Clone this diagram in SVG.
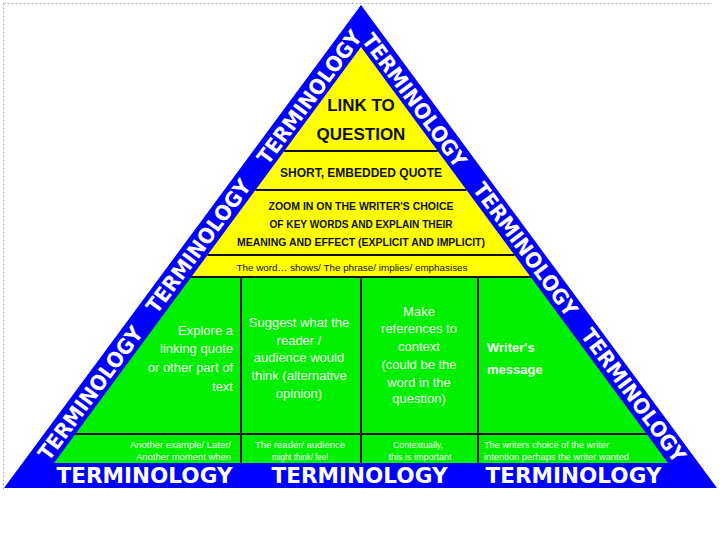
<svg xmlns="http://www.w3.org/2000/svg" width="720" height="540" viewBox="0 0 720 540">
<style>
.term{font-family:"DejaVu Sans",sans-serif;font-weight:bold;font-size:21px;fill:#fff;text-anchor:middle}
.ytxt{font-family:"Liberation Sans",Arial,sans-serif;font-weight:bold;fill:#111;text-anchor:middle}
.gtxt{font-family:"Liberation Sans",Arial,sans-serif;font-size:13px;fill:#f2fff0}
.small{font-family:"Liberation Sans",Arial,sans-serif;font-size:9px;fill:#f2fff0}
.div{stroke:#111;stroke-width:2;fill:none}
</style>
<rect width="720" height="540" fill="#fff"/>
<g id="frame" stroke="#9fb3c8" stroke-width="1" stroke-dasharray="2,2" fill="none">
<line x1="3.5" y1="3.5" x2="712" y2="3.5"/>
<line x1="3.5" y1="3.5" x2="3.5" y2="490"/>
</g>
<g id="band">
<polygon points="361,5 717,488 4,488" fill="#0000ff"/>
<text class="term" transform="translate(309,97) rotate(-53.5)" y="8" textLength="160" lengthAdjust="spacingAndGlyphs">TERMINOLOGY</text>
<text class="term" transform="translate(198,246) rotate(-53.5)" y="8" textLength="160" lengthAdjust="spacingAndGlyphs">TERMINOLOGY</text>
<text class="term" transform="translate(90,393) rotate(-53.5)" y="8" textLength="160" lengthAdjust="spacingAndGlyphs">TERMINOLOGY</text>
<text class="term" transform="translate(415,100) rotate(53.6)" y="8" textLength="160" lengthAdjust="spacingAndGlyphs">TERMINOLOGY</text>
<text class="term" transform="translate(526,249) rotate(53.6)" y="8" textLength="160" lengthAdjust="spacingAndGlyphs">TERMINOLOGY</text>
<text class="term" transform="translate(634,395) rotate(53.6)" y="8" textLength="160" lengthAdjust="spacingAndGlyphs">TERMINOLOGY</text>
<text class="term" x="144.5" y="483" font-size="22" textLength="176" lengthAdjust="spacingAndGlyphs">TERMINOLOGY</text>
<text class="term" x="359.5" y="483" font-size="22" textLength="176" lengthAdjust="spacingAndGlyphs">TERMINOLOGY</text>
<text class="term" x="573.5" y="483" font-size="22" textLength="176" lengthAdjust="spacingAndGlyphs">TERMINOLOGY</text>
</g>
<g id="yellow-area">
<polygon points="361,47 530.7,277 191.3,277" fill="#ffff00"/>
</g>
<g id="green-area">
<polygon points="191.3,277 530.7,277 668,463 54,463" fill="#00f000"/>
</g>
<g id="connectors">
<line class="div" x1="284.2" y1="151" x2="437.8" y2="151"/>
<line class="div" x1="255.5" y1="190" x2="466.5" y2="190"/>
<line class="div" x1="207.5" y1="255" x2="514.5" y2="255"/>
<line class="div" x1="191.3" y1="277" x2="530.7" y2="277"/>
<line class="div" x1="75.4" y1="434" x2="646.6" y2="434"/>
<line class="div" x1="241" y1="277" x2="241" y2="463"/>
<line class="div" x1="361" y1="277" x2="361" y2="463"/>
<line class="div" x1="478" y1="277" x2="478" y2="463"/>
</g>
<g id="link-to-question">
<text class="ytxt" x="361" y="111" font-size="17">LINK TO</text>
<text class="ytxt" x="361" y="140" font-size="17">QUESTION</text>
</g>
<g id="short-quote">
<text class="ytxt" x="361" y="177" font-size="13" textLength="162" lengthAdjust="spacingAndGlyphs">SHORT, EMBEDDED QUOTE</text>
</g>
<g id="zoom-in">
<text class="ytxt" x="361" y="210" font-size="10.5" textLength="185" lengthAdjust="spacingAndGlyphs">ZOOM IN ON THE WRITER'S CHOICE</text>
<text class="ytxt" x="361" y="228" font-size="10.5" textLength="183" lengthAdjust="spacingAndGlyphs">OF KEY WORDS AND EXPLAIN THEIR</text>
<text class="ytxt" x="361" y="246" font-size="10.5" textLength="248" lengthAdjust="spacingAndGlyphs">MEANING AND EFFECT (EXPLICIT AND IMPLICIT)</text>
</g>
<g id="phrase">
<text class="ytxt" x="352" y="271" font-size="9" style="font-weight:normal" textLength="231" lengthAdjust="spacingAndGlyphs">The word… shows/ The phrase/ implies/ emphasises</text>
</g>
<g id="explore" class="gtxt" text-anchor="end">
<text x="233" y="335">Explore a</text>
<text x="233" y="353">linking quote</text>
<text x="233" y="372">or other part of</text>
<text x="233" y="391">text</text>
</g>
<g id="suggest" class="gtxt" text-anchor="middle">
<text x="299" y="327">Suggest what the</text>
<text x="299" y="345">reader /</text>
<text x="299" y="362">audience would</text>
<text x="299" y="380">think (alternative</text>
<text x="299" y="398">opinion)</text>
</g>
<g id="context" class="gtxt" text-anchor="middle">
<text x="419" y="316">Make</text>
<text x="419" y="333">references to</text>
<text x="419" y="351">context</text>
<text x="419" y="369">(could be the</text>
<text x="419" y="387">word in the</text>
<text x="419" y="403">question)</text>
</g>
<g id="message" class="gtxt" font-weight="bold" font-size="14">
<text x="487" y="352">Writer's</text>
<text x="487" y="374">message</text>
</g>
<g id="another" class="small" text-anchor="end">
<text x="231" y="448" textLength="101" lengthAdjust="spacingAndGlyphs">Another example/ Later/</text>
<text x="231" y="460" textLength="95" lengthAdjust="spacingAndGlyphs">Another moment when</text>
</g>
<g id="reader" class="small" text-anchor="middle">
<text x="300" y="448" textLength="90" lengthAdjust="spacingAndGlyphs">The reader/ audience</text>
<text x="300" y="460" textLength="56" lengthAdjust="spacingAndGlyphs">might think/ feel</text>
</g>
<g id="contextually" class="small" text-anchor="middle">
<text x="418" y="448" textLength="50" lengthAdjust="spacingAndGlyphs">Contextually,</text>
<text x="420" y="460" textLength="63" lengthAdjust="spacingAndGlyphs">this is important</text>
</g>
<g id="writers-choice" class="small">
<text x="484" y="448" textLength="125" lengthAdjust="spacingAndGlyphs">The writers choice of the writer</text>
<text x="484" y="460" textLength="145" lengthAdjust="spacingAndGlyphs">intention perhaps the writer wanted</text>
</g>
</svg>
